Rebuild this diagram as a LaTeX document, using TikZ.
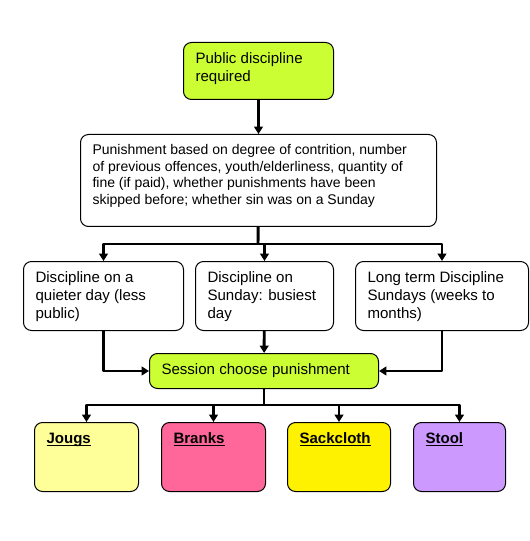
\documentclass[tikz,border=0pt]{standalone}
\usepackage{fontspec}
\setmainfont{Liberation Sans}
\usetikzlibrary{arrows.meta}
\definecolor{lime}{HTML}{CCFF33}
\definecolor{paleyellow}{HTML}{FFFF99}
\definecolor{rose}{HTML}{FF6699}
\definecolor{lilac}{HTML}{CC99FF}
\newdimen\px \px=0.75pt
% box content: width, height (in px), text at top left
\newcommand{\boxtext}[3]{\begin{minipage}[t][\dimexpr #2\px-20\px][t]{\dimexpr #1\px-24\px}\vspace{0pt}\raggedright #3\end{minipage}}
\newcommand{\punlabel}[1]{\textbf{\underline{\raisebox{0pt}[\height][0pt]{\vphantom{Bkl}#1}}}}
\begin{document}
\begin{tikzpicture}[x=0.75pt, y=-0.75pt, line join=round, >={Triangle[width=6.5pt,length=5.5pt]},
	font=\fontsize{11.3pt}{13.5pt}\selectfont]
	\tikzset{box/.style={draw, line width=0.75pt, rounded corners=6pt, anchor=north west, inner xsep=9pt, inner ysep=7.5pt},
		conn/.style={->, line width=2.2pt},
		link/.style={line width=2.2pt}}
	\useasboundingbox (0,0) rectangle (529,541);
	\node[box, fill=lime] (pub) at (183,42) {\boxtext{150}{57}{Public discipline\\required}};
	\node[box] (pun) at (80,134) {\boxtext{356}{92}{\fontsize{10.5pt}{12.5pt}\selectfont Punishment based on degree of contrition, number\\of previous offences, youth/elderliness, quantity of\\fine (if paid), whether punishments have been\\skipped before; whether sin was on a Sunday}};
	\node[box] (qd) at (23,261) {\boxtext{160}{69}{Discipline on a\\quieter day (less\\public)}};
	\node[box] (sd) at (195,261) {\boxtext{138}{69}{Discipline on\\Sunday: busiest\\day}};
	\node[box] (ld) at (355,261) {\boxtext{173}{69}{Long term Discipline\\Sundays (weeks to\\months)}};
	\node[box, fill=lime] (ses) at (149,353) {\boxtext{229}{35}{Session choose punishment}};
	\node[box, fill=paleyellow] (jougs) at (34,422) {\boxtext{104}{69}{\punlabel{Jougs}}};
	\node[box, fill=rose] (branks) at (161,422) {\boxtext{104}{69}{\punlabel{Branks}}};
	\node[box, fill=yellow] (sack) at (287,422) {\boxtext{103}{69}{\punlabel{Sackcloth}}};
	\node[box, fill=lilac] (stool) at (413,422) {\boxtext{92}{69}{\punlabel{Stool}}};
	\coordinate (split1) at (258,244);
	\coordinate (split2) at (264,405);
	% connectors
	\draw[conn] (pub) -- (pun);
	\draw[link] (pun) -- (split1);
	\draw[conn] (split1) -| (qd);
	\draw[conn] (split1) -| (sd);
	\draw[conn] (split1) -| (ld);
	\draw[conn] (qd) |- (ses);
	\draw[conn] (sd) -- (ses);
	\draw[conn] (ld) |- (ses);
	\draw[link] (ses) -- (split2);
	\foreach \b in {jougs, branks, sack, stool}
		\draw[conn] (split2) -| (\b);
\end{tikzpicture}
\end{document}
